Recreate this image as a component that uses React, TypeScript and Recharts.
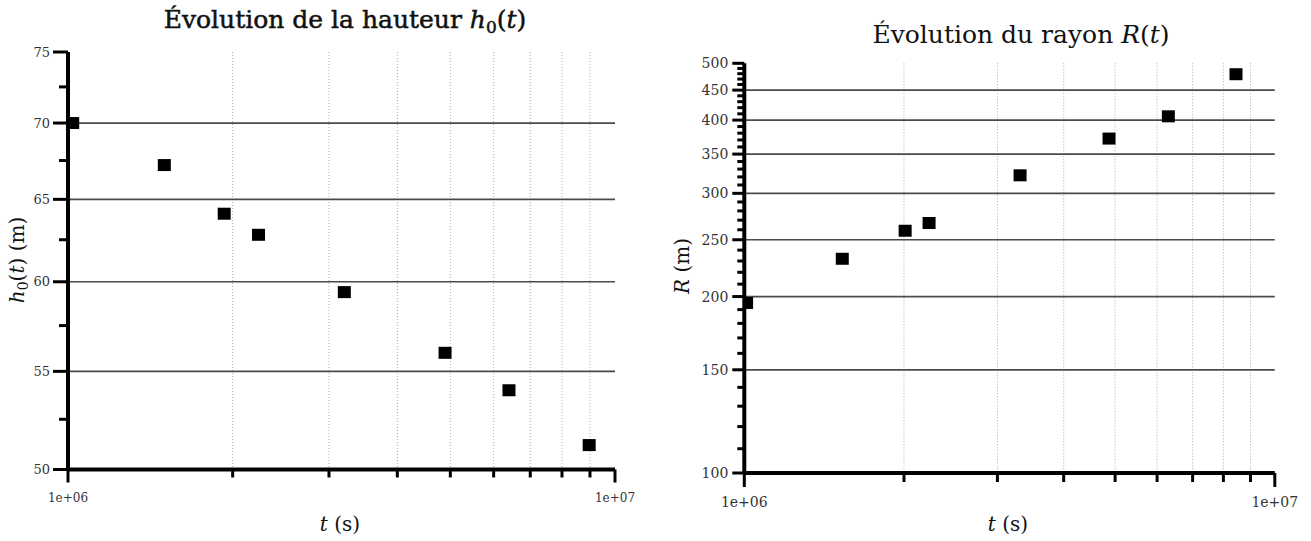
import { ScatterChart, Scatter, XAxis, YAxis, CartesianGrid } from 'recharts'

// h0(t) chart
const hTimes = [1.02e6, 1.5e6, 1.93e6, 2.23e6, 3.2e6, 4.89e6, 6.4e6, 8.97e6]
const hValues = [70.0, 67.2, 64.1, 62.8, 59.4, 56.0, 54.0, 51.2]
const hTicks = [50, 52.5, 55, 57.5, 60, 62.5, 65, 67.5, 70, 72.5, 75]
const hLabels = [50, 55, 60, 65, 70, 75]
const hGrid = [55, 60, 65, 70]

// R(t) chart
const rTimes = [1.01e6, 1.53e6, 2.01e6, 2.23e6, 3.31e6, 4.87e6, 6.3e6, 8.45e6]
const rValues = [195, 232, 259, 267, 322, 372, 406, 479]
const rTicks = [
  100, 110, 120, 130, 140, 150, 160, 170, 180, 190, 200, 210, 220, 230, 240, 250, 260, 270, 280, 290, 300,
  310, 320, 330, 340, 350, 360, 370, 380, 390, 400, 410, 420, 430, 440, 450, 460, 470, 480, 490, 500,
]
const rLabels = [100, 150, 200, 250, 300, 350, 400, 450, 500]
const rGrid = [150, 200, 250, 300, 350, 400, 450]

// shared time axis
const tTicks = [1e6, 2e6, 3e6, 4e6, 5e6, 6e6, 7e6, 8e6, 9e6, 1e7]
const tMajor = [1e6, 1e7]
const tLabels = ['1e+06', '1e+07']
const tGrid = [2e6, 3e6, 4e6, 5e6, 6e6, 7e6, 8e6, 9e6]

const hData = hTimes.map((t, i) => ({ t, v: hValues[i] }))
const rData = rTimes.map((t, i) => ({ t, v: rValues[i] }))

const FONT = '"DejaVu Serif", "Liberation Serif", serif'

const Square = (p: any) => <rect x={p.cx - 6.5} y={p.cy - 6} width={13} height={12} fill="#000" />

function makeYTick(labels: number[], major: number, minor: number, gap: number, fs: number) {
  return (p: any) => {
    const v = p.payload.value
    const isMajor = labels.includes(v)
    return (
      <g>
        <line x1={p.x - (isMajor ? major : minor)} x2={p.x} y1={p.y} y2={p.y} stroke="#000" strokeWidth={3} />
        {isMajor && (
          <text x={p.x - gap} y={p.y} dy="0.36em" textAnchor="end" fontSize={fs} fontFamily={FONT} fill="#333">
            {v}
          </text>
        )}
      </g>
    )
  }
}

function makeXTick(major: number, minor: number, dy: number, fs: number) {
  return (p: any) => {
    const v = p.payload.value
    const idx = tMajor.indexOf(v)
    return (
      <g>
        <line x1={p.x} x2={p.x} y1={p.y} y2={p.y + (idx >= 0 ? major : minor)} stroke="#000" strokeWidth={3} />
        {idx >= 0 && (
          <text x={p.x} y={p.y + dy} textAnchor="middle" fontSize={fs} fontFamily={FONT} fill="#333">
            {tLabels[idx]}
          </text>
        )}
      </g>
    )
  }
}

function LogPlot(props: {
  width: number
  margin: any
  data: any[]
  yDomain: number[]
  yTicks: number[]
  yGrid: number[]
  yTick: any
  xTick: any
}) {
  return (
    <ScatterChart width={props.width} height={541} margin={props.margin}>
      <CartesianGrid horizontal={false} verticalValues={tGrid} stroke="#aaa" strokeDasharray="1 2" />
      <CartesianGrid vertical={false} horizontalValues={props.yGrid} stroke="#4a4a4a" strokeWidth={1.7} />
      <XAxis
        type="number"
        dataKey="t"
        scale="log"
        domain={[1e6, 1e7]}
        ticks={tTicks}
        interval={0}
        tickSize={0}
        tickMargin={0}
        tick={props.xTick}
        axisLine={{ stroke: '#000', strokeWidth: 4 }}
        height={40}
        allowDataOverflow
      />
      <YAxis
        type="number"
        dataKey="v"
        scale="log"
        domain={props.yDomain}
        ticks={props.yTicks}
        interval={0}
        tickSize={0}
        tickMargin={0}
        tick={props.yTick}
        axisLine={{ stroke: '#000', strokeWidth: 4 }}
        width={50}
        allowDataOverflow
      />
      <Scatter data={props.data} shape={Square} isAnimationActive={false} />
    </ScatterChart>
  )
}

export default function App() {
  return (
    <div style={{ position: 'absolute', left: 0, top: 0, width: 1311, height: 541, background: '#fff' }}>
      <div style={{ position: 'absolute', left: 0, top: 0 }}>
        <LogPlot
          width={640}
          margin={{ top: 52, right: 25, bottom: 31.5, left: 18 }}
          data={hData}
          yDomain={[50, 75]}
          yTicks={hTicks}
          yGrid={hGrid}
          yTick={makeYTick(hLabels, 15, 9, 18, 13)}
          xTick={makeXTick(13, 8, 32, 12)}
        />
      </div>
      <div style={{ position: 'absolute', left: 660, top: 0 }}>
        <LogPlot
          width={651}
          margin={{ top: 63.3, right: 36.2, bottom: 28, left: 34.3 }}
          data={rData}
          yDomain={[100, 500]}
          yTicks={rTicks}
          yGrid={rGrid}
          yTick={makeYTick(rLabels, 12, 7, 16, 14)}
          xTick={makeXTick(14, 9, 34, 14)}
        />
      </div>
      <svg
        width={1311}
        height={541}
        style={{ position: 'absolute', left: 0, top: 0, pointerEvents: 'none' }}
        fontFamily={FONT}
        fill="#111"
      >
        <text x={345} y={28} textAnchor="middle" fontSize={25} stroke="#111" strokeWidth={0.5}>
          Évolution de la hauteur <tspan fontStyle="italic">h</tspan>
          <tspan fontSize={17} dy={5}>0</tspan>
          <tspan dy={-5}>(</tspan>
          <tspan fontStyle="italic">t</tspan>)
        </text>
        <text x={1021} y={43} textAnchor="middle" fontSize={25}>
          Évolution du rayon <tspan fontStyle="italic">R</tspan>(<tspan fontStyle="italic">t</tspan>)
        </text>
        <text x={340} y={531} textAnchor="middle" fontSize={20}>
          <tspan fontStyle="italic">t</tspan> (s)
        </text>
        <text x={1008} y={531} textAnchor="middle" fontSize={20}>
          <tspan fontStyle="italic">t</tspan> (s)
        </text>
        <text transform="translate(24,260) rotate(-90)" textAnchor="middle" fontSize={20}>
          <tspan fontStyle="italic">h</tspan>
          <tspan fontSize={14} dy={4}>0</tspan>
          <tspan dy={-4}>(</tspan>
          <tspan fontStyle="italic">t</tspan>) (m)
        </text>
        <text transform="translate(689,266) rotate(-90)" textAnchor="middle" fontSize={20}>
          <tspan fontStyle="italic">R</tspan> (m)
        </text>
      </svg>
    </div>
  )
}
